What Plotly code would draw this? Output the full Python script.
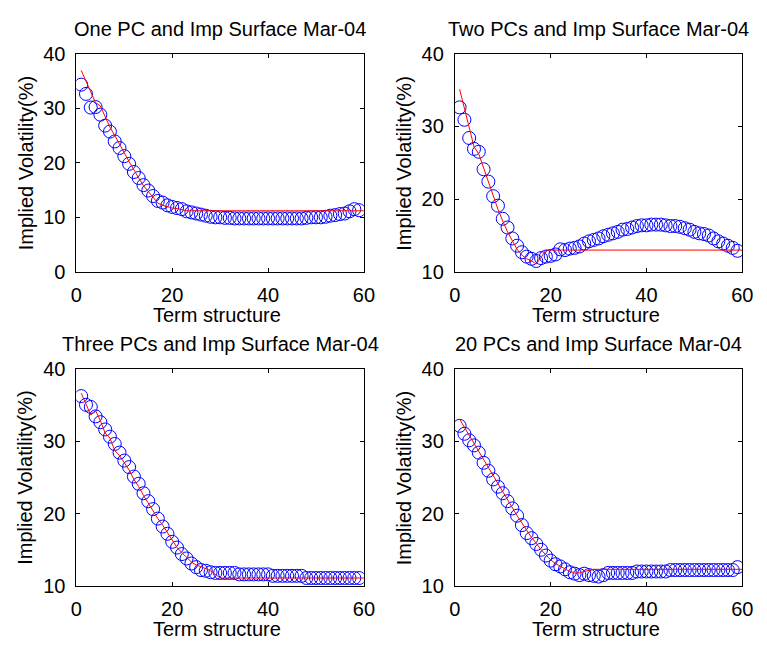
import plotly.graph_objects as go

# Term-structure index for the observed implied vols and for the PC reconstructions
term_obs = list(range(1, 60))
term_fit = list(range(1, 61))

# Observed implied volatility surface, Mar-04 (%)
obs_one_pc = [34.3, 32.6, 30.1, 30.2, 28.8, 26.8, 25.7, 23.9, 22.7, 21.2,
              19.8, 18.3, 17.2, 15.9, 14.9, 13.9, 13.0, 12.7, 12.2, 11.9,
              11.7, 11.5, 11.1, 10.9, 10.7, 10.5, 10.3, 10.1, 10.0, 10.0,
              9.9, 9.9, 9.8, 9.8, 9.8, 9.8, 9.8, 9.8, 9.8, 9.8,
              9.8, 9.8, 9.8, 9.8, 9.8, 9.8, 9.8, 9.9, 10.0, 10.0,
              10.0, 10.1, 10.3, 10.4, 10.6, 10.7, 11.1, 11.5, 11.3]
obs_two_pc = [32.6, 30.9, 28.4, 26.9, 26.5, 24.1, 22.4, 20.4, 19.1, 17.3,
              16.1, 14.6, 13.6, 12.7, 12.1, 11.8, 11.5, 11.9, 12.1, 12.2,
              12.4, 13.1, 13.0, 13.2, 13.3, 13.5, 13.9, 14.2, 14.4, 14.6,
              14.9, 15.1, 15.3, 15.5, 15.8, 15.9, 16.1, 16.3, 16.4, 16.4,
              16.5, 16.5, 16.5, 16.4, 16.3, 16.3, 16.2, 16.0, 15.8, 15.5,
              15.3, 15.2, 15.0, 14.6, 14.2, 13.9, 13.6, 13.3, 12.9]
obs_three_pc = [36.2, 35.0, 34.7, 33.4, 32.6, 31.6, 30.6, 29.6, 28.4, 27.3,
                26.4, 25.1, 24.1, 22.8, 21.7, 20.6, 19.3, 18.2, 17.2, 16.1,
                15.3, 14.4, 13.8, 13.1, 12.6, 12.2, 12.1, 11.9, 11.8, 11.8,
                11.8, 11.8, 11.8, 11.6, 11.6, 11.6, 11.6, 11.6, 11.6, 11.6,
                11.4, 11.4, 11.4, 11.4, 11.4, 11.4, 11.4, 11.1, 11.1, 11.1,
                11.1, 11.1, 11.1, 11.1, 11.1, 11.1, 11.1, 11.1, 11.1]
obs_twenty_pc = [32.1, 31.0, 30.1, 29.4, 28.4, 27.0, 25.9, 24.7, 23.7, 22.8,
                 21.7, 20.7, 19.7, 18.4, 17.3, 16.6, 15.8, 15.0, 14.2, 13.5,
                 13.0, 12.7, 12.3, 11.9, 11.7, 11.5, 11.7, 11.5, 11.4, 11.3,
                 11.5, 11.8, 11.8, 11.8, 11.8, 11.8, 11.8, 12.0, 12.0, 12.0,
                 12.0, 12.0, 12.0, 12.0, 12.2, 12.2, 12.2, 12.2, 12.2, 12.2,
                 12.2, 12.2, 12.2, 12.2, 12.2, 12.2, 12.2, 12.2, 12.6]

# Reconstructions from the leading principal components (%)
fit_one_pc = [36.9, 35.0, 33.0, 31.0, 30.4, 28.5, 26.5, 25.0, 23.3, 21.8,
              20.2, 18.6, 17.2, 15.8, 14.7, 13.6, 12.6, 12.2, 11.9, 11.7,
              11.6, 11.4, 11.2] + [11.2] * 37
fit_two_pc = [35.1, 32.4, 29.6, 27.2, 26.2, 24.3, 22.2, 20.3, 18.6, 17.0,
              15.5, 14.3, 13.1, 12.3, 11.8, 11.5, 11.1, 12.0, 13.0] + [13.0] * 41
fit_three_pc = [36.6, 35.0, 33.6, 34.2, 32.8, 31.1, 30.4, 28.7, 28.0, 27.0,
                26.0, 24.7, 23.7, 22.5, 21.4, 20.3, 19.3, 18.4, 17.3, 16.3,
                15.3, 14.6, 13.9, 13.3, 12.9, 12.7, 12.4, 12.1, 11.6, 11.1] + [11.1] * 30
fit_twenty_pc = [33.0, 31.9, 30.6, 29.6, 28.5, 27.3, 26.2, 25.1, 24.1, 23.0,
                 21.9, 20.8, 19.7, 18.7, 17.7, 16.7, 15.9, 15.0, 14.3, 13.6,
                 13.1, 12.7, 12.3, 12.0, 11.8, 11.8, 12.0, 12.2, 12.3] + [12.3] * 31

titles = ["One PC and Imp Surface Mar-04", "Two PCs and Imp Surface Mar-04",
          "Three PCs and Imp Surface Mar-04", "20 PCs and Imp Surface Mar-04"]
x_label = "Term structure"
y_label = "Implied Volatility(%)"
x_ticks = [0, 20, 40, 60]
y_ticks_full = [0, 10, 20, 30, 40]
y_ticks_upper = [10, 20, 30, 40]

W, H = 767, 654
FONT = "Arial, Liberation Sans, sans-serif"

# panel rectangles in pixels: (left, right, top, bottom)
panels = [(72, 366, 44, 270), (459, 753, 44, 270),
          (72, 366, 370, 595), (459, 753, 370, 595)]
obs_sets = [obs_one_pc, obs_two_pc, obs_three_pc, obs_twenty_pc]
fit_sets = [fit_one_pc, fit_two_pc, fit_three_pc, fit_twenty_pc]
y_ranges = [[0, 40], [10, 40], [10, 40], [10, 40]]
y_tick_sets = [y_ticks_full, y_ticks_upper, y_ticks_upper, y_ticks_upper]

fig = go.Figure()
layout = dict(width=W, height=H, margin=dict(l=0, r=0, t=0, b=0),
              paper_bgcolor="white", plot_bgcolor="white",
              showlegend=False, font=dict(family=FONT, color="black"))
annotations = []

for i, (l, r, t, b) in enumerate(panels):
    n = "" if i == 0 else str(i + 1)
    xa, ya = "x" + n, "y" + n
    fig.add_trace(go.Scatter(
        x=term_obs, y=obs_sets[i], mode="markers", xaxis=xa, yaxis=ya,
        marker=dict(symbol="circle-open", size=13, color="#0000ff",
                    line=dict(width=1, color="#0000ff"))))
    fig.add_trace(go.Scatter(
        x=term_fit, y=fit_sets[i], mode="lines", xaxis=xa, yaxis=ya,
        line=dict(color="#ff0000", width=1)))
    axis_common = dict(showline=True, linecolor="black", linewidth=1,
                       mirror="ticks", ticks="inside", ticklen=4,
                       tickwidth=1, tickcolor="black", showgrid=False,
                       zeroline=False, tickfont=dict(family=FONT, size=20))
    layout["xaxis" + n] = dict(domain=[l / W, r / W], range=[0, 60],
                               tickvals=x_ticks, anchor=ya,
                               ticklabelstandoff=5, **axis_common)
    layout["yaxis" + n] = dict(domain=[1 - b / H, 1 - t / H],
                               range=y_ranges[i], tickvals=y_tick_sets[i],
                               anchor=xa, ticklabelstandoff=6, **axis_common)
    cx = (l + r) / 2
    annotations.append(dict(text=titles[i], x=cx / W, y=1 - (t - 25) / H,
                            xref="paper", yref="paper", showarrow=False,
                            xanchor="center", yanchor="middle",
                            font=dict(family=FONT, size=20)))
    annotations.append(dict(text=x_label, x=(cx - 3) / W, y=1 - (b + 45) / H,
                            xref="paper", yref="paper", showarrow=False,
                            xanchor="center", yanchor="middle",
                            font=dict(family=FONT, size=20)))
    annotations.append(dict(text=y_label, x=(l - 52) / W, y=1 - ((t + b) / 2) / H,
                            xref="paper", yref="paper", showarrow=False,
                            xanchor="center", yanchor="middle", textangle=-90,
                            font=dict(family=FONT, size=20)))

layout["annotations"] = annotations
fig.update_layout(**layout)
fig.write_html("out.html")
